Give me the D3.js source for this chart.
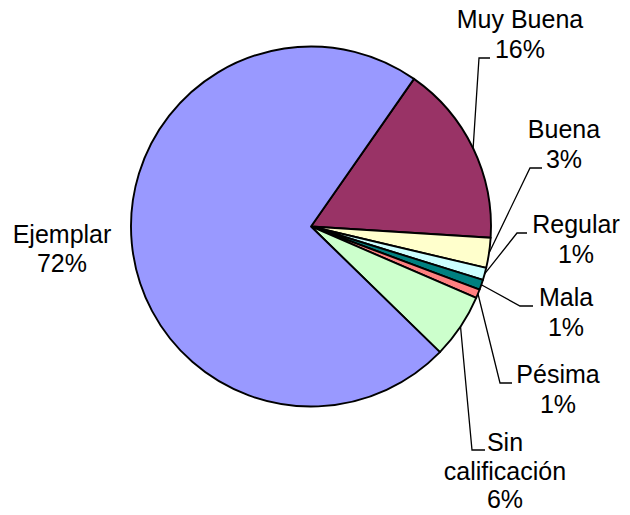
<!DOCTYPE html>
<html>
    <head>
        <meta charset="utf-8">
        <script src="https://cdn.jsdelivr.net/npm/d3@7/dist/d3.min.js"></script>
    </head>
    <style>
        body { margin: 0; background: #fff; }
        text { font-family: "Liberation Sans", Arial, sans-serif; font-size: 25px; fill: #000; }
    </style>
    <body>
        <div id="canvas"></div>
        <script>
            // slices, clockwise from the Muy Buena edge
            var categories = ['Muy Buena', 'Buena', 'Regular', 'Mala', 'Pésima', 'Sin calificación', 'Ejemplar'];
            var values = [16.3, 2.7, 1.1, 0.9, 0.8, 5.8, 72.4];
            var pctLabels = ['16%', '3%', '1%', '1%', '1%', '6%', '72%'];
            var colors = ['#993366', '#FFFFCC', '#CCFFFF', '#008080', '#FF8080', '#CCFFCC', '#9999FF'];

            // label layout: text lines, centre x, first baseline, leader elbow + end
            var labelLines = [
                ['Muy Buena'], ['Buena'], ['Regular'], ['Mala'], ['Pésima'], ['Sin', 'calificación'], ['Ejemplar']
            ];
            var labelPos = [
                { x: 520, y: 28, lh: 30, elbow: [479, 58], end: 490 },
                { x: 564, y: 138, lh: 30, elbow: [530, 168], end: 542 },
                { x: 576, y: 233, lh: 30, elbow: [517, 233], end: 527 },
                { x: 566, y: 306, lh: 30, elbow: [520, 306], end: 533 },
                { x: 558, y: 383, lh: 30, elbow: [500, 383], end: 512 },
                { x: 505, y: 451, lh: 28.5, elbow: [472, 450], end: 485 },
                { x: 62, y: 243, lh: 29, elbow: null }
            ];

            const w = 630;
            const h = 515;
            const cx = 311, cy = 226.5, r = 180;

            const svg = d3.select('#canvas')
                .append('svg')
                .attr('width', w)
                .attr('height', h);

            const pie = d3.pie()
                .sort(null)
                .startAngle(34.9 * Math.PI / 180)
                .endAngle(34.9 * Math.PI / 180 + 2 * Math.PI);

            const arc = d3.arc().innerRadius(0).outerRadius(r);
            const arcs = pie(values);

            const g = svg.append('g').attr('transform', `translate(${cx},${cy})`);

            g.selectAll('path')
                .data(arcs)
                .enter()
                .append('path')
                .attr('d', arc)
                .attr('fill', (d, i) => colors[i])
                .attr('stroke', '#000')
                .attr('stroke-width', 1.9)
                .attr('stroke-linejoin', 'round');

            // leader lines from slice edge
            arcs.forEach(function(d, i) {
                var p = labelPos[i];
                if (!p.elbow) return;
                var a = (d.startAngle + d.endAngle) / 2;
                var sx = cx + r * Math.sin(a);
                var sy = cy - r * Math.cos(a);
                svg.append('polyline')
                    .attr('points', [[sx, sy], p.elbow, [p.end, p.elbow[1]]].map(q => q.join(',')).join(' '))
                    .attr('fill', 'none')
                    .attr('stroke', '#000')
                    .attr('stroke-width', 1.3);
            });

            // labels
            categories.forEach(function(c, i) {
                var p = labelPos[i];
                var lines = labelLines[i].concat([pctLabels[i]]);
                var t = svg.append('text')
                    .attr('text-anchor', 'middle');
                lines.forEach(function(l, k) {
                    t.append('tspan')
                        .attr('x', p.x)
                        .attr('y', p.y + k * p.lh)
                        .text(l);
                });
            });
        </script>
    </body>
</html>
